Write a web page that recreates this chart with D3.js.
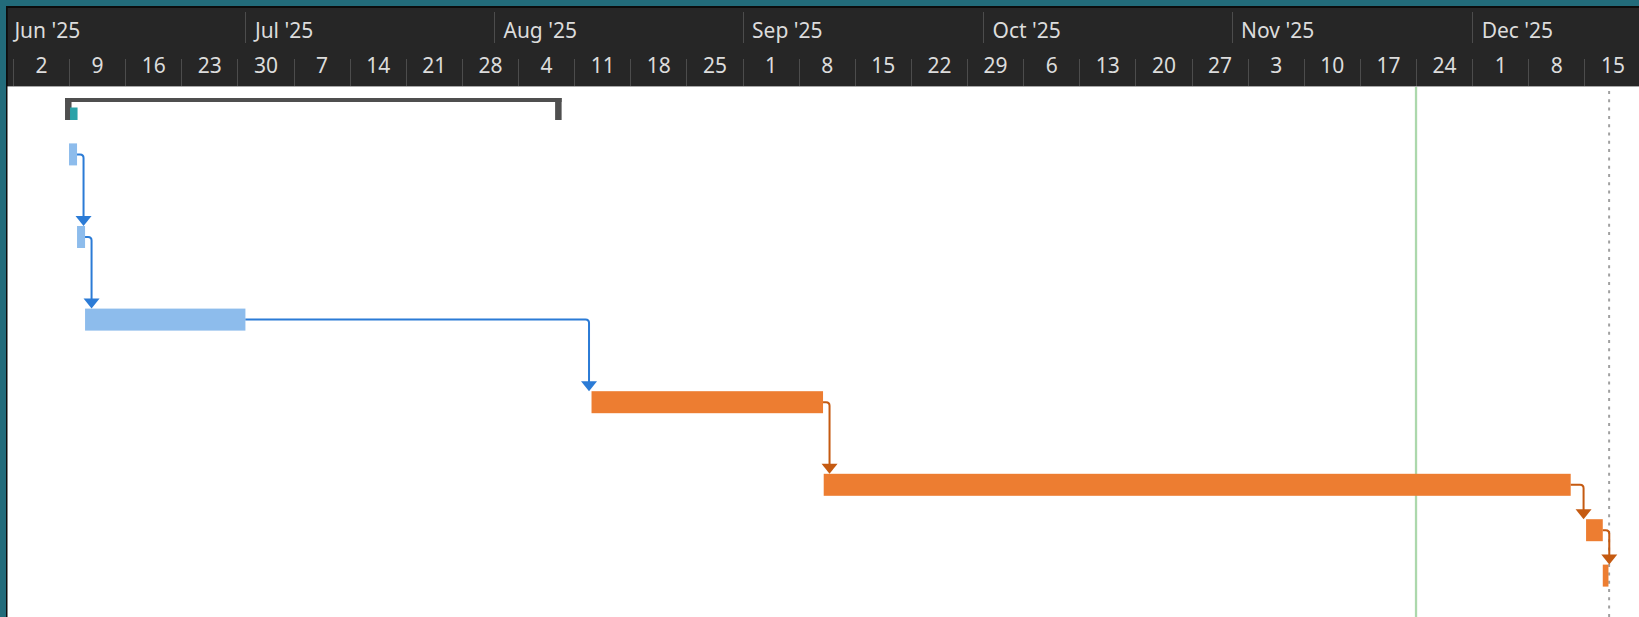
<!DOCTYPE html>
<html>
<head>
<meta charset="utf-8">
<script src="https://cdn.jsdelivr.net/npm/d3@7"></script>
<style>
  body { margin: 0; background: #226b7a; }
  svg { display: block; }
  .hdr text { fill: #dcdcdc; font-family: "Noto Sans", "Open Sans", sans-serif; font-size: 21px; }
</style>
</head>
<body>
<div id="ganttDiv"></div>
<script>
// timescale
var monthStarts = ["2025-06-01", "2025-07-01", "2025-08-01", "2025-09-01", "2025-10-01", "2025-11-01", "2025-12-01"];
var monthLabels = ["Jun '25", "Jul '25", "Aug '25", "Sep '25", "Oct '25", "Nov '25", "Dec '25"];
var weekLabels = ["2", "9", "16", "23", "30", "7", "14", "21", "28", "4", "11", "18", "25",
  "1", "8", "15", "22", "29", "6", "13", "20", "27", "3", "10", "17", "24", "1", "8", "15"];

// summary row
var summaryStart = "2025-06-09";
var summaryEnd = "2025-08-09";
var summaryDone = "2025-06-10";

// tasks, in row order
var taskStart = ["2025-06-09", "2025-06-10", "2025-06-11", "2025-08-13T04:00",
  "2025-09-11T03:00", "2025-12-15T05:00", "2025-12-17T07:00"];
var taskEnd = ["2025-06-10", "2025-06-11", "2025-07-01", "2025-09-11T01:00",
  "2025-12-13T07:00", "2025-12-17T07:00", "2025-12-18"];
var taskPhase = ["plan", "plan", "plan", "build", "build", "build", "build"];
var taskRowLines = [2, 2, 2, 2, 1, 1, 1]; // text lines in the table row
var taskLinks = [[0, 1], [1, 2], [2, 3], [3, 4], [4, 5], [5, 6]];

var currentDate = "2025-11-24";
var deadlineDate = "2025-12-18T02:00";

var width = 1639, height = 617;
var left = 7.5, headerTop = 8, headerBottom = 87;
var barTop = 11, barHeight = 22;

var phaseFill = {plan: "#8dbcec", build: "#ed7d31"};
var phaseLink = {plan: "#2b7bd6", build: "#c55a11"};

var parse = function(s) { return new Date(s + (s.length > 10 ? ":00Z" : "T00:00:00Z")); };

var x = d3.scaleUtc()
    .domain([parse("2025-06-02"), parse("2025-12-15")])
    .range([12.9, 1584.4]);

function rowHeight(lines) { return 8.2 + 37.2 * lines; }

var svg = d3.select("#ganttDiv")
    .append("svg")
    .attr("width", width)
    .attr("height", height);

svg.append("defs").append("clipPath")
    .attr("id", "clip")
    .append("rect")
    .attr("x", left).attr("y", 0)
    .attr("width", width - left).attr("height", height);

// frame
svg.append("rect")
    .attr("x", 6).attr("y", 6)
    .attr("width", width - 6).attr("height", height - 6)
    .attr("fill", "#0c0c0c");

svg.append("rect")
    .attr("x", left).attr("y", headerBottom)
    .attr("width", width - left).attr("height", height - headerBottom)
    .attr("fill", "#ffffff");

// header
var hdr = svg.append("g")
    .attr("class", "hdr")
    .attr("clip-path", "url(#clip)");

hdr.append("rect")
    .attr("x", left).attr("y", headerTop)
    .attr("width", width - left).attr("height", headerBottom - headerTop)
    .attr("fill", "#262626");

var weeks = d3.utcMonday.range(parse("2025-06-02"), parse("2025-12-16"));

hdr.selectAll("line.week")
    .data(weeks)
    .enter()
    .append("line")
    .attr("class", "week")
    .attr("x1", function(d) { return Math.round(x(d)) + 0.5; })
    .attr("x2", function(d) { return Math.round(x(d)) + 0.5; })
    .attr("y1", 59).attr("y2", headerBottom)
    .attr("stroke", "#4c4c4c");

hdr.selectAll("line.month")
    .data(monthStarts)
    .enter()
    .append("line")
    .attr("class", "month")
    .attr("x1", function(d) { return Math.round(x(parse(d))) + 0.5; })
    .attr("x2", function(d) { return Math.round(x(parse(d))) + 0.5; })
    .attr("y1", 12).attr("y2", 43)
    .attr("stroke", "#4c4c4c");

hdr.selectAll("text.month")
    .data(monthStarts)
    .enter()
    .append("text")
    .attr("class", "month")
    .attr("x", function(d) { return x(parse(d)) + 9.5; })
    .attr("y", 38)
    .text(function(d, i) { return monthLabels[i]; });

// week labels sit mid-week, drawn by an axis with no tick marks
var weekAxis = d3.axisBottom(x)
    .tickValues(weeks.map(function(d) { return d3.utcHour.offset(d, 84); }))
    .tickSize(0)
    .tickPadding(0)
    .tickFormat(function(d, i) { return weekLabels[i]; });

var axisG = hdr.append("g")
    .attr("transform", "translate(0,53)")
    .call(weekAxis);
axisG.select(".domain").remove();
axisG.selectAll("text")
    .attr("fill", null)
    .attr("font-family", null)
    .attr("font-size", null)
    .attr("dy", null)
    .attr("y", 20);

svg.append("line")
    .attr("x1", left).attr("x2", width)
    .attr("y1", headerBottom - 0.5).attr("y2", headerBottom - 0.5)
    .attr("stroke", "#a8a8a8");

// chart body
var body = svg.append("g").attr("clip-path", "url(#clip)");

body.append("line")
    .attr("x1", x(parse(currentDate))).attr("x2", x(parse(currentDate)))
    .attr("y1", headerBottom).attr("y2", height)
    .attr("stroke", "#acd8ac")
    .attr("stroke-width", 2.3);

body.append("line")
    .attr("x1", x(parse(deadlineDate))).attr("x2", x(parse(deadlineDate)))
    .attr("y1", headerBottom + 4).attr("y2", height)
    .attr("stroke", "#a0a0a0")
    .attr("stroke-width", 2)
    .attr("stroke-dasharray", "3,5.3");

// row tops
var summaryTop = headerBottom;
var rowTops = [];
var acc = summaryTop + rowHeight(1);
taskRowLines.forEach(function(n) {
  rowTops.push(acc);
  acc += rowHeight(n);
});

// summary bracket
var sx0 = x(parse(summaryStart)), sx1 = x(parse(summaryEnd));
body.append("rect")
    .attr("x", sx0 - 4).attr("y", summaryTop + barTop)
    .attr("width", sx1 - sx0 + 7.5).attr("height", 4)
    .attr("fill", "#4f4f4f");
body.selectAll("rect.leg")
    .data([sx0 - 4, sx1 - 3])
    .enter()
    .append("rect")
    .attr("class", "leg")
    .attr("x", function(d) { return d; })
    .attr("y", summaryTop + barTop)
    .attr("width", 6.5).attr("height", 22)
    .attr("fill", "#4f4f4f");
body.append("rect")
    .attr("x", sx0 + 1).attr("y", summaryTop + barTop + 9.5)
    .attr("width", x(parse(summaryDone)) - sx0 - 0.5).attr("height", 12.5)
    .attr("fill", "#2aa2a8");

// task bars
var tasks = taskStart.map(function(s, i) {
  return {
    x0: x(parse(s)),
    x1: x(parse(taskEnd[i])),
    y: rowTops[i] + barTop,
    phase: taskPhase[i]
  };
});

body.selectAll("rect.task")
    .data(tasks)
    .enter()
    .append("rect")
    .attr("class", "task")
    .attr("x", function(d) { return d.x0; })
    .attr("y", function(d) { return d.y; })
    .attr("width", function(d) { return Math.max(d.x1 - d.x0, 2); })
    .attr("height", barHeight)
    .attr("fill", function(d) { return phaseFill[d.phase]; });

// finish-to-start links
var links = body.selectAll("g.link")
    .data(taskLinks)
    .enter()
    .append("g")
    .attr("class", "link");

links.append("path")
    .attr("fill", "none")
    .attr("stroke-width", 2)
    .attr("stroke", function(d) { return phaseLink[tasks[d[0]].phase]; })
    .attr("d", function(d) {
      var a = tasks[d[0]], b = tasks[d[1]];
      var sy = a.y + barHeight / 2;
      var lx = Math.max(a.x1 + 6.5, b.x0 - 2.5);
      var ty = b.y - 8;
      return "M" + a.x1 + "," + sy + "H" + (lx - 3.5) +
        "Q" + lx + "," + sy + " " + lx + "," + (sy + 3.5) + "V" + ty;
    });

links.append("path")
    .attr("fill", function(d) { return phaseLink[tasks[d[0]].phase]; })
    .attr("d", function(d) {
      var a = tasks[d[0]], b = tasks[d[1]];
      var lx = Math.max(a.x1 + 6.5, b.x0 - 2.5);
      var ty = b.y;
      return "M" + (lx - 8) + "," + (ty - 10) + "L" + (lx + 8) + "," + (ty - 10) +
        "L" + lx + "," + ty + "Z";
    });
</script>
</body>
</html>
